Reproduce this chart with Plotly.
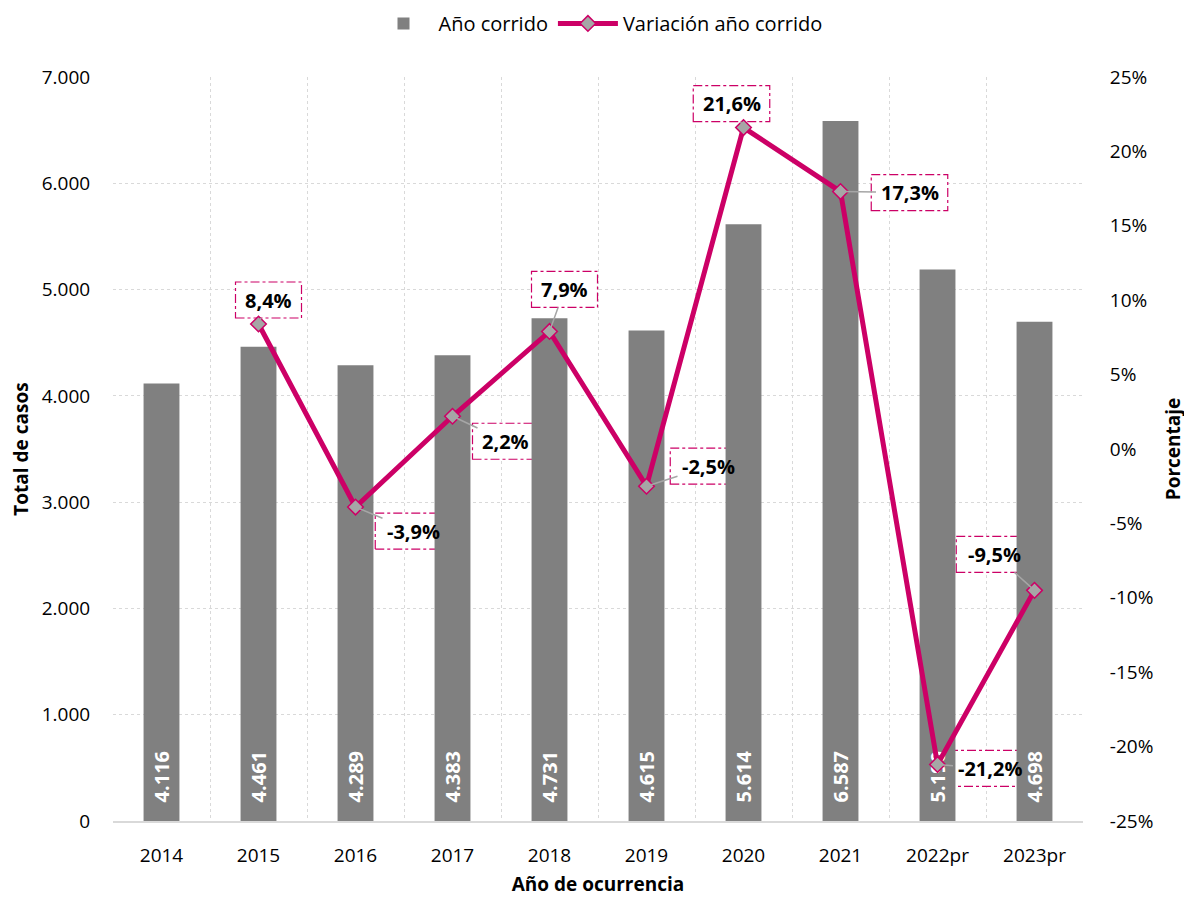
import plotly.graph_objects as go

years = ["2014", "2015", "2016", "2017", "2018", "2019", "2020", "2021", "2022pr", "2023pr"]
casos = [4116, 4461, 4289, 4383, 4731, 4615, 5614, 6587, 5190, 4698]
var_years = ["2015", "2016", "2017", "2018", "2019", "2020", "2021", "2022pr", "2023pr"]
variacion = [8.4, -3.9, 2.2, 7.9, -2.5, 21.6, 17.3, -21.2, -9.5]
# label offsets in pixels (ax, ay) from the point
label_offsets = [(10, -24), (58, 24), (53, 25), (15, -42), (62, -20),
                 (-12, -24), (69, 1), (52, 4), (-40, -36)]
left_ticks = [0, 1000, 2000, 3000, 4000, 5000, 6000, 7000]
right_ticks = [-25, -20, -15, -10, -5, 0, 5, 10, 15, 20, 25]
Y_RANGE = [0, 7000]
Y2_RANGE = [-25, 25]

FONT = "Open Sans"
MAG = "#CC0066"
GRID = "#D9D9D9"
NB = "\u00a0"

def fmt_int(v):
    return f"{v:,}".replace(",", ".")

def fmt_pct(v):
    return f"{v:.1f}".replace(".", ",") + "%"

def y2_to_y(v):
    # map a right-axis value onto the left axis scale (shared pixel position)
    t = (v - Y2_RANGE[0]) / (Y2_RANGE[1] - Y2_RANGE[0])
    return Y_RANGE[0] + t * (Y_RANGE[1] - Y_RANGE[0])

fig = go.Figure()
fig.add_trace(go.Bar(
    x=years, y=casos, name="Año corrido",
    marker=dict(color="#808080", line=dict(width=0)),
    width=0.37,
    text=[NB * 3 + fmt_int(v) for v in casos],
    textposition="inside", insidetextanchor="start", textangle=-90,
    textfont=dict(family=FONT, size=20, color="white", weight="bold"),
    constraintext="none",
    yaxis="y",
))
fig.add_trace(go.Scatter(
    x=var_years, y=variacion, name="Variación año corrido",
    mode="lines+markers",
    line=dict(color=MAG, width=5),
    marker=dict(symbol="diamond", size=12, color="#A6A6A6", line=dict(color=MAG, width=1.5)),
    yaxis="y2",
))

annotations = []
shapes = []
for xv, yv, (ax, ay) in zip(var_years, variacion, label_offsets):
    xi = years.index(xv)
    txt = fmt_pct(yv)
    w = 10.5 * len(txt) + 24
    h = 36
    shapes.append(dict(
        type="rect", xref="x", yref="y", xsizemode="pixel", ysizemode="pixel",
        xanchor=xi, yanchor=y2_to_y(yv),
        x0=ax - w / 2, x1=ax + w / 2, y0=-ay - h / 2, y1=-ay + h / 2,
        line=dict(color=MAG, width=1.2, dash="dashdot"),
        fillcolor="white", layer="between",
    ))
    annotations.append(dict(
        x=xi, y=yv, xref="x", yref="y2", ax=ax, ay=ay, axref="pixel", ayref="pixel",
        text="<b>" + txt + "</b>", showarrow=True, arrowhead=0, arrowwidth=1.5,
        arrowcolor="#A6A6A6", standoff=0, startstandoff=0,
        font=dict(family=FONT, size=20, color="black"),
        borderpad=4, xanchor="center", yanchor="middle",
    ))

fig.update_layout(
    width=1184, height=889,
    margin=dict(l=105, r=109, t=69, b=76, autoexpand=False),
    paper_bgcolor="white", plot_bgcolor="white",
    font=dict(family=FONT, size=19, color="#000000"),
    separators=",.",
    showlegend=True,
    legend=dict(orientation="h", x=0.5, xanchor="center", y=1.072, yanchor="middle",
                font=dict(family=FONT, size=20, color="#000"), itemwidth=60,
                traceorder="normal"),
    xaxis=dict(
        type="category", categoryorder="array", categoryarray=years,
        tickson="boundaries", showgrid=True, gridcolor=GRID, griddash="3px,3px", gridwidth=1,
        showline=True, linecolor=GRID, linewidth=2,
        ticks="", ticklabelstandoff=16,
        tickfont=dict(family=FONT, size=19, color="#000"),
        title=dict(text="<b>Año de ocurrencia</b>", font=dict(family=FONT, size=19, color="#000"), standoff=17),
        range=[-0.5, 9.5],
    ),
    yaxis=dict(
        range=Y_RANGE, tickvals=left_ticks, ticktext=[fmt_int(v) for v in left_ticks],
        showgrid=True, gridcolor=GRID, griddash="3px,3px", gridwidth=1, zeroline=False,
        ticks="outside", ticklen=18, tickcolor="rgba(0,0,0,0)",
        tickfont=dict(family=FONT, size=19, color="#000"),
        title=dict(text="<b>Total de casos</b>", font=dict(family=FONT, size=19, color="#000"), standoff=16),
    ),
    yaxis2=dict(
        overlaying="y", side="right", range=Y2_RANGE,
        tickvals=right_ticks, ticktext=[f"{v}%" for v in right_ticks],
        showgrid=False, zeroline=False,
        ticks="outside", ticklen=22, tickcolor="rgba(0,0,0,0)",
        tickfont=dict(family=FONT, size=19, color="#000"),
        title=dict(text="<b>Porcentaje</b>", font=dict(family=FONT, size=19, color="#000"), standoff=14),
    ),
    annotations=annotations,
    shapes=shapes,
)

fig.write_html("out.html")
